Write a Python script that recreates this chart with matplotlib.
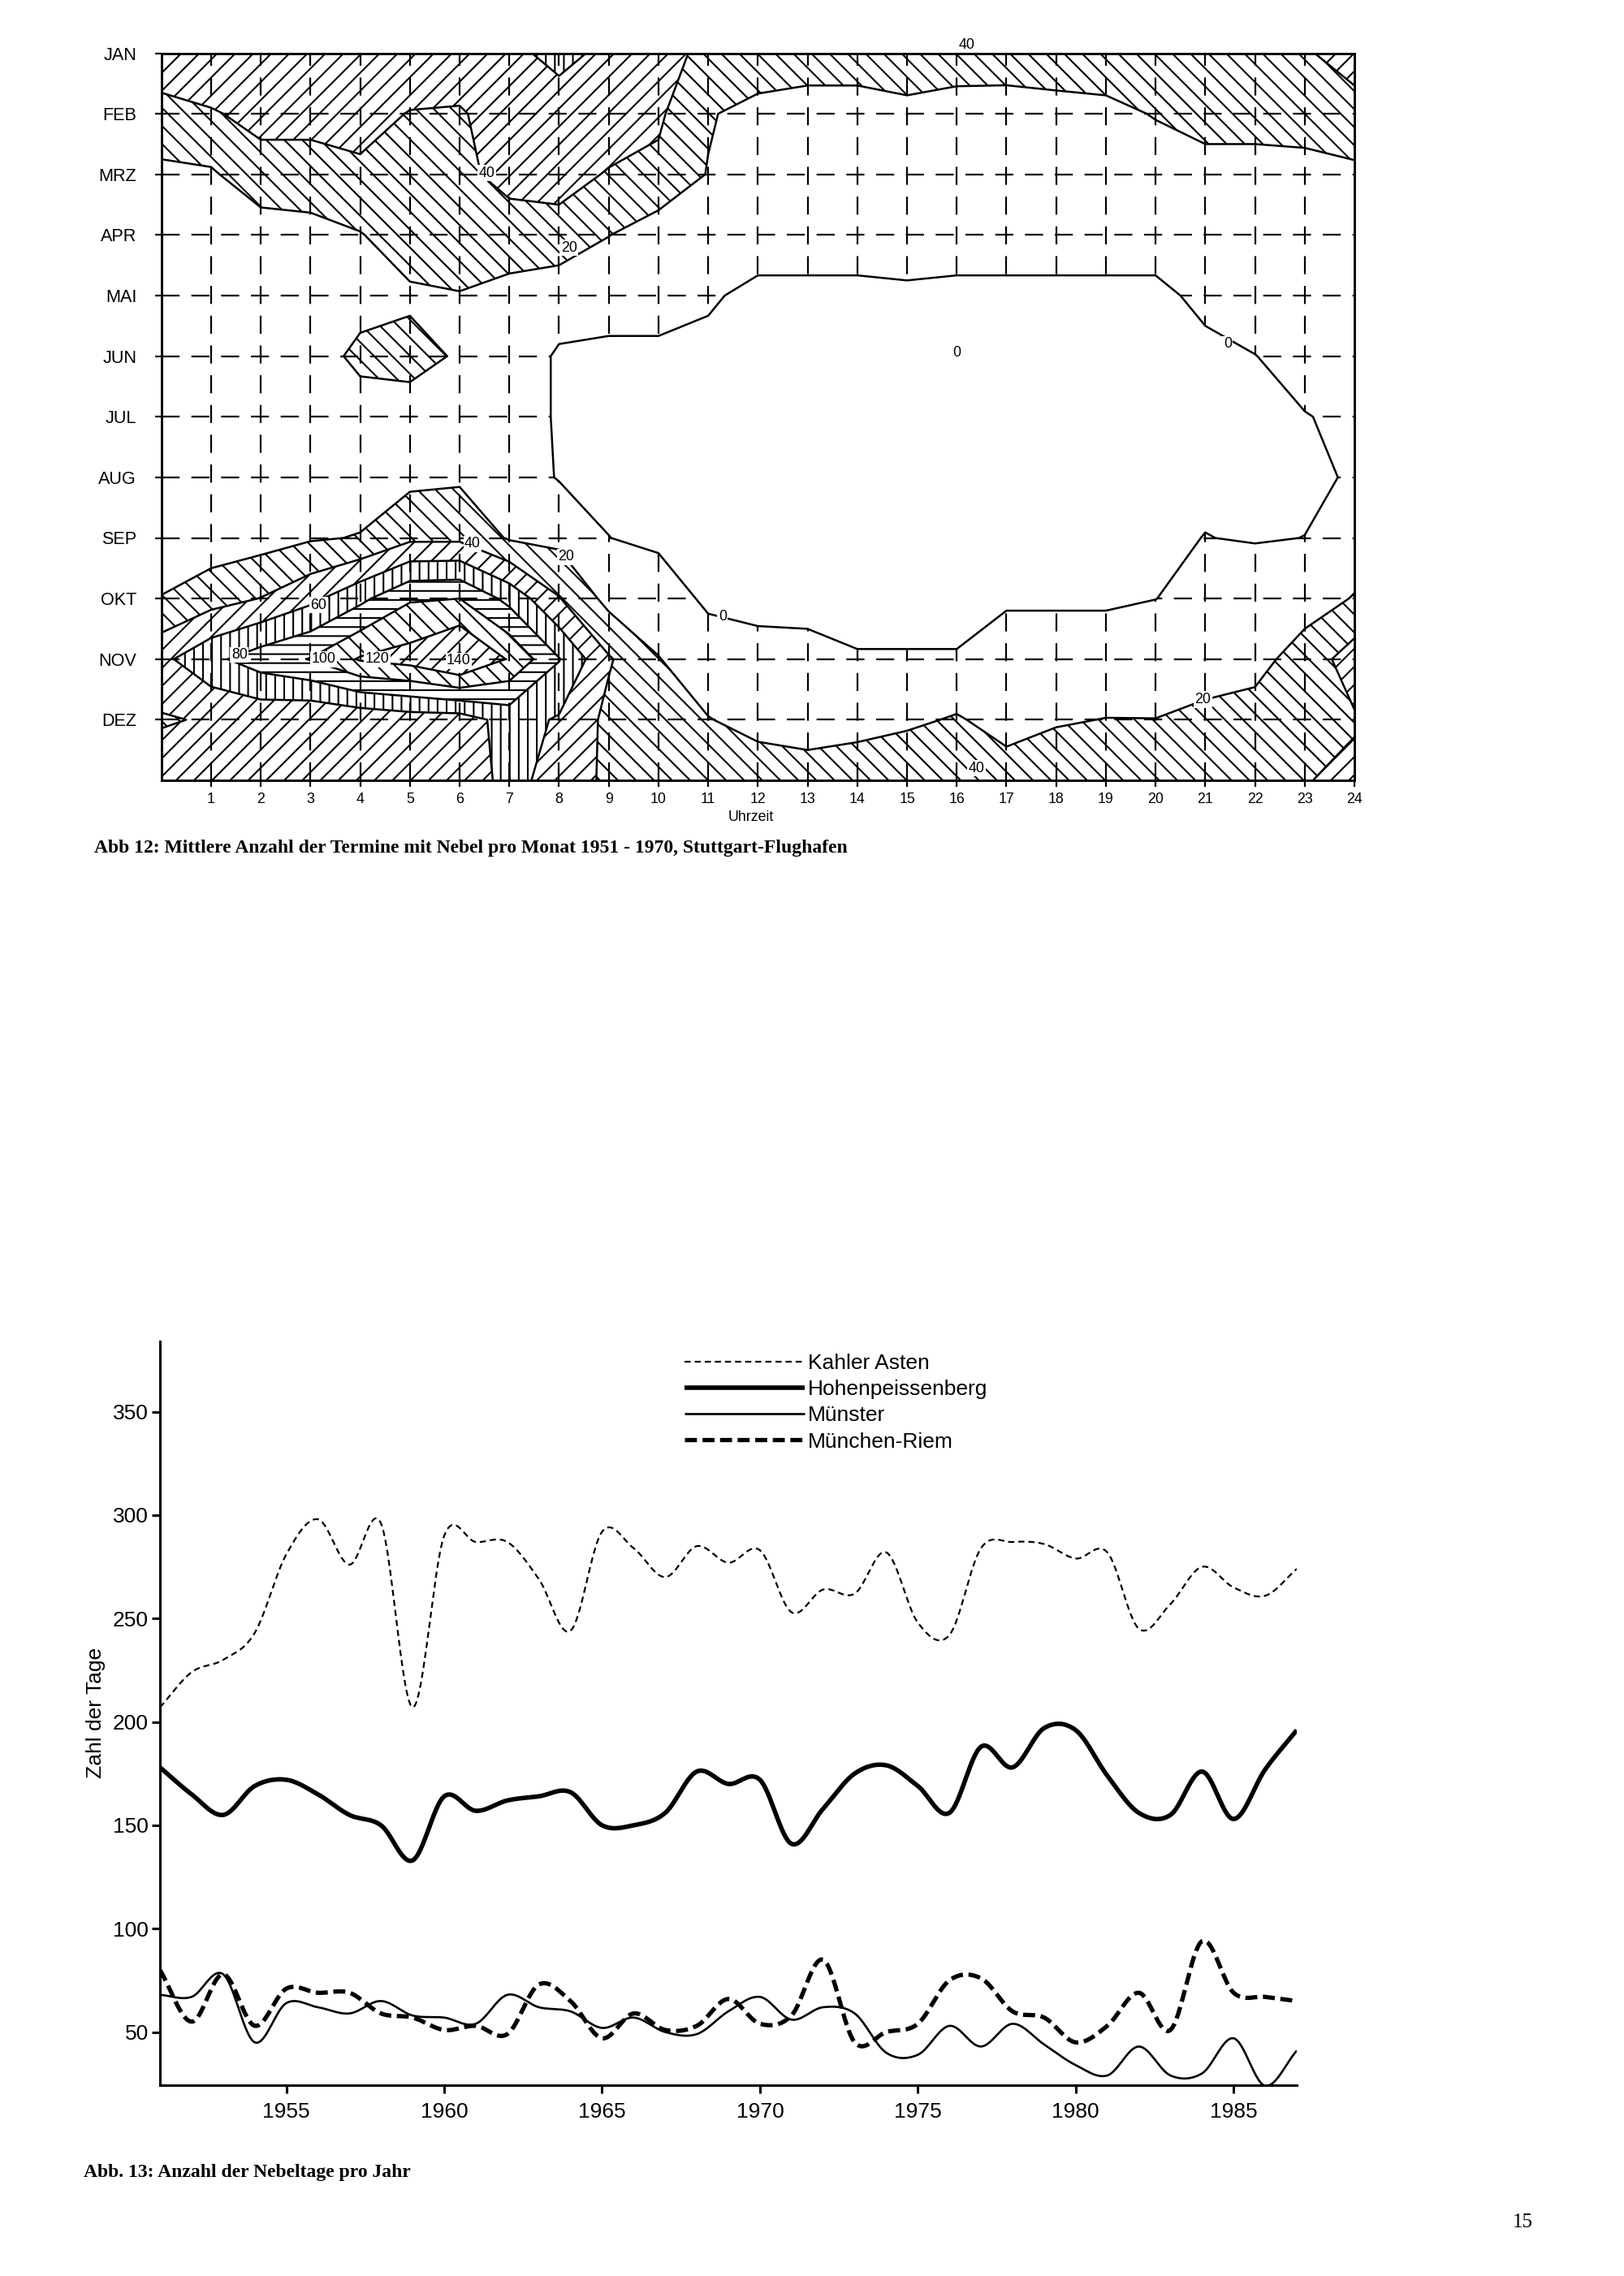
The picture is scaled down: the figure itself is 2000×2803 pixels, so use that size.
import numpy as np
import matplotlib
matplotlib.use("Agg")
import matplotlib.pyplot as plt

plt.rcParams['font.family'] = ['Liberation Sans', 'DejaVu Sans']
plt.rcParams['hatch.color'] = 'black'
plt.rcParams['hatch.linewidth'] = 0.75

# ---------------- data: Abb 12 (fog dates per month and hour) ----------------
months = ['JAN', 'FEB', 'MRZ', 'APR', 'MAI', 'JUN', 'JUL', 'AUG', 'SEP', 'OKT', 'NOV', 'DEZ']
hours = list(range(0, 25))
hour_labels = [str(h) for h in range(1, 25)]
contour_levels = [1, 20, 40, 60, 80, 100, 120, 140]
level_names = ['0', '20', '40', '60', '80', '100', '120', '140']

# rows: JAN ... DEZ, then year end (bottom edge); columns: hour 0 ... 24
fog_jan = [55, 58, 58, 58, 58, 55, 53, 55, 66, 55, 46, 36, 36, 36, 36, 36, 38, 38, 36, 36, 36, 36, 36, 38, 48]
fog_feb = [32, 38, 46, 46, 48, 39, 38, 50, 50, 48, 43, 22, 12, 6, 6, 13, 5, 4, 10, 13, 21.5, 28, 28, 29, 33]
fog_mrz = [16, 17.5, 32, 32, 36, 36, 37, 44, 45, 39, 36, 19, 8, 5, 5, 8, 4, 4, 6, 7, 6.5, 12, 12, 13, 16]
fog_apr = [12, 12, 10, 13, 19, 30, 33, 34, 35, 20.5, 9, 8, 3, 3, 3, 4, 3, 3, 3, 3, 3, 6, 8, 9, 12]
fog_mai = [10, 10, 8, 10, 12, 17, 19, 12, 5, 3, 3, 1.5, 0, 0, 0, 0, 0, 0, 0, 0, 0, 2, 4, 6, 9]
fog_jun = [10, 10, 10, 10, 25, 26, 18, 6, 0, 0, 0, 0, 0, 0, 0, 0, 0, 0, 0, 0, 0, 0, 0.9, 3, 6]
fog_jul = [10, 10, 10, 10, 10, 12, 10, 6, 0, 0, 0, 0, 0, 0, 0, 0, 0, 0, 0, 0, 0, 0, 0, 0.8, 2]
fog_aug = [10, 10, 10, 10, 10, 15, 17, 10, 0, 0, 0, 0, 0, 0, 0, 0, 0, 0, 0, 0, 0, 0, 0, 0, 1.5]
fog_sep = [12, 8, 12, 18, 21, 36, 36, 18, 15, 1.05, 0, 0, 0, 0, 0, 0, 0, 0, 0, 0, 0, 1.1, 0.6, 1.05, 10]
fog_okt = [20.5, 32, 40.5, 55, 75, 98, 100, 74, 41, 14, 4, 0, 0, 0, 0, 0, 0, 0, 0, 0, 0.9, 4, 5, 12, 21]
fog_nov = [55, 75, 90, 101, 122, 128, 145, 118, 81, 42, 21, 4, 2.2, 2, 1.2, 1.2, 1.2, 5, 5, 5, 7, 10, 14, 28, 50]
fog_dez = [38, 42, 45, 41, 45, 50, 50, 68, 58, 35, 32, 21, 12, 10, 10, 16, 22, 12, 18, 20.5, 20.3, 25, 27, 36, 38]
fog_end = [52, 52, 52, 52, 50, 48, 52, 64, 55, 35, 32, 33, 34, 30, 37, 38, 39.5, 30, 34, 34, 34, 35, 36, 39, 45]

# ---------------- data: Abb 13 (fog days per year) ----------------
years = list(range(1951, 1988))
kahler_asten = [207, 224, 230, 243, 281, 298, 276, 296, 207, 290, 287, 287, 269, 244, 292, 284, 270, 285, 277,
                283, 253, 264, 262, 282, 248, 242, 284, 287, 286, 279, 282, 245, 257, 275, 265, 261, 274]
hohenpeissenberg = [178, 165, 155, 169, 172, 165, 155, 150, 133, 164, 157, 162, 164, 166, 150, 150, 156, 176, 170,
                    172, 141, 158, 175, 179, 169, 156, 188, 178, 197, 196, 174, 156, 155, 176, 153, 177, 196]
muenster = [68, 67, 78, 45, 64, 62, 59, 65, 58, 57, 54, 68, 62, 60, 52, 57, 50, 49, 60,
            67, 56, 62, 59, 40, 39, 53, 43, 54, 44, 34, 29, 43, 29, 30, 47, 24, 41]
muenchen_riem = [80, 55, 78, 53, 71, 69, 69, 59, 57, 51, 53, 49, 73, 65, 47, 59, 51, 53, 66,
                 54, 58, 85, 45, 50, 54, 75, 76, 60, 57, 45, 53, 69, 51, 94, 69, 67, 65]
series_names = ['Kahler Asten', 'Hohenpeissenberg', 'Münster', 'München-Riem']
year_ticks = [1955, 1960, 1965, 1970, 1975, 1980, 1985]
day_ticks = [50, 100, 150, 200, 250, 300, 350]


def smooth(x, y, n=16):
    """Catmull-Rom curve through the given points (display smoothing only)."""
    P = np.column_stack([np.asarray(x, float), np.asarray(y, float)])
    E = np.vstack([2 * P[0] - P[1], P, 2 * P[-1] - P[-2]])
    t = np.linspace(0, 1, n, endpoint=False)[:, None]
    out = []
    for i in range(len(P) - 1):
        p0, p1, p2, p3 = E[i], E[i + 1], E[i + 2], E[i + 3]
        out.append(0.5 * (2 * p1 + (-p0 + p2) * t + (2 * p0 - 5 * p1 + 4 * p2 - p3) * t ** 2
                          + (-p0 + 3 * p1 - 3 * p2 + p3) * t ** 3))
    out.append(P[-1:])
    out = np.vstack(out)
    return out[:, 0], out[:, 1]


W, H = 2000, 2803
fig = plt.figure(figsize=(W / 200, H / 200), dpi=200)

# ---------------- top chart ----------------
Z = np.array([fog_jan, fog_feb, fog_mrz, fog_apr, fog_mai, fog_jun, fog_jul, fog_aug,
              fog_sep, fog_okt, fog_nov, fog_dez, fog_end], float)
X, Y = np.meshgrid(hours, np.arange(Z.shape[0]))

l, r, t, b = 198.7, 1668, 65.5, 961
ax = fig.add_axes([l / W, 1 - b / H, (r - l) / W, (b - t) / H])
ax.set_xlim(0, 24)
ax.set_ylim(12, 0)

grid_kw = dict(color='black', lw=0.8, linestyle=(0, (10, 6.5)), zorder=1)
for h in range(1, 24):
    ax.axvline(h, **grid_kw)
for m in range(1, 12):
    ax.axhline(m, **grid_kw)

ax.contourf(X, Y, Z, levels=[-1, contour_levels[0]], colors=['white'], zorder=2)
cf = ax.contourf(X, Y, Z, levels=contour_levels[1:] + [200], colors='none',
                 hatches=['\\\\\\', '///', '|||', '---', '\\\\\\', '///', '|||'], zorder=3)
ax.contour(X, Y, Z, levels=contour_levels, colors='black', linewidths=0.9, zorder=4)

lab_kw = dict(fontsize=6.4, ha='center', va='center', zorder=6,
              bbox=dict(boxstyle='square,pad=0.08', fc='white', ec='none'))
ax.text(6.55, 1.98, level_names[2], **lab_kw)
ax.text(8.2, 3.21, level_names[1], **lab_kw)
ax.text(16.0, 4.95, level_names[0], **lab_kw)
ax.text(21.45, 4.8, level_names[0], **lab_kw)
ax.text(6.26, 8.1, level_names[2], **lab_kw)
ax.text(8.14, 8.31, level_names[1], **lab_kw)
ax.text(3.16, 9.11, level_names[3], **lab_kw)
ax.text(1.57, 9.93, level_names[4], **lab_kw)
ax.text(3.26, 10.0, level_names[5], **lab_kw)
ax.text(4.34, 10.0, level_names[6], **lab_kw)
ax.text(5.98, 10.03, level_names[7], **lab_kw)
ax.text(11.29, 9.3, level_names[0], **lab_kw)
ax.text(20.95, 10.67, level_names[1], **lab_kw)
ax.text(16.4, 11.8, level_names[2], **lab_kw)
ax.text(16.2, -0.02, level_names[2], fontsize=6.4, ha='center', va='bottom', zorder=6)

ax.set_xticks(range(1, 25))
ax.set_xticklabels(hour_labels)
ax.set_yticks(range(0, 12))
ax.set_yticklabels(months)
ax.tick_params(axis='x', direction='out', length=3, width=0.8, pad=2.5, labelsize=6.4)
ax.tick_params(axis='y', direction='out', length=3, width=0.8, pad=8, labelsize=7.8)
for s in ax.spines.values():
    s.set_linewidth(1.05)
    s.set_zorder(7)

fig.text(925 / W, 1 - 1006 / H, 'Uhrzeit', fontsize=6.4, ha='center', va='center')
fig.text(116 / W, 1 - 1045 / H,
         'Abb 12: Mittlere Anzahl der Termine mit Nebel pro Monat 1951 - 1970, Stuttgart-Flughafen',
         family=['Liberation Serif', 'DejaVu Serif'], fontweight='bold', fontsize=8.5,
         ha='left', va='center')

# ---------------- bottom chart ----------------
l2, r2, t2, b2 = 197, 1597, 1652, 2567.5
ax2 = fig.add_axes([l2 / W, 1 - b2 / H, (r2 - l2) / W, (b2 - t2) / H])
ax2.set_xlim(1951, 1987)
ax2.set_ylim(24.5, 384)

styles = [dict(lw=0.8, linestyle=(0, (3.4, 2.2))),
          dict(lw=2.0, linestyle='-'),
          dict(lw=0.95, linestyle='-'),
          dict(lw=1.9, linestyle=(0, (2.8, 1.3)))]
for vals, name, st in zip([kahler_asten, hohenpeissenberg, muenster, muenchen_riem], series_names, styles):
    xs, ys = smooth(years, vals)
    ax2.plot(xs, ys, color='black', label=name, solid_capstyle='butt', dash_capstyle='butt', **st)

for s in ['top', 'right']:
    ax2.spines[s].set_visible(False)
for s in ['left', 'bottom']:
    ax2.spines[s].set_linewidth(1.1)
ax2.set_xticks(year_ticks)
ax2.set_yticks(day_ticks)
ax2.tick_params(direction='out', length=3.6, width=1.1, labelsize=9.5)
ax2.tick_params(axis='x', pad=4)
ax2.tick_params(axis='y', pad=1.5)
ax2.set_ylabel('Zahl der Tage', fontsize=9.5, labelpad=3)

leg = ax2.legend(loc='upper left', bbox_to_anchor=(843 / W, 1 - 1667 / H), bbox_transform=fig.transFigure,
                 frameon=False, fontsize=9.5, handlelength=5.6, handletextpad=0.15,
                 labelspacing=0.31, borderpad=0, borderaxespad=0)

fig.text(103 / W, 1 - 2675 / H, 'Abb. 13: Anzahl der Nebeltage pro Jahr',
         family=['Liberation Serif', 'DejaVu Serif'], fontweight='bold', fontsize=8.5,
         ha='left', va='center')
fig.text(1875 / W, 1 - 2737 / H, '15', family=['Liberation Serif', 'DejaVu Serif'],
         fontsize=9, ha='center', va='center')

fig.savefig('out.png', dpi=200, facecolor='white')
